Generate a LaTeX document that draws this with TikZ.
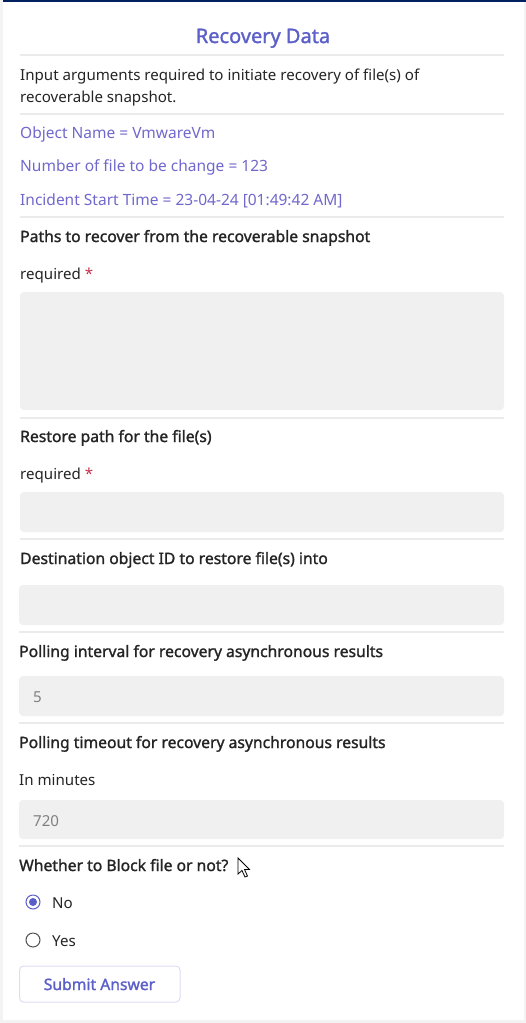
\documentclass[tikz,border=0pt]{standalone}
\usepackage{fontspec}
\setmainfont{Noto Sans}[AutoFakeBold=1.4]
\usepackage{tikz}
\usetikzlibrary{positioning, calc}
\definecolor{navy}{RGB}{0,32,96}
\definecolor{frame}{RGB}{243,243,243}
\definecolor{rulegray}{RGB}{235,235,235}
\definecolor{fieldgray}{RGB}{240,240,240}
\definecolor{inktext}{RGB}{36,36,36}
\definecolor{hinttext}{RGB}{128,128,128}
\definecolor{brand}{RGB}{91,95,199}
\definecolor{infotext}{RGB}{112,104,204}
\definecolor{reqred}{RGB}{196,49,75}
\definecolor{btnedge}{RGB}{224,220,245}
\newcommand{\bodyfont}{\fontsize{15.1}{18}\selectfont}
\newcommand{\labelfont}{\fontsize{15.7}{18}\selectfont\bfseries}
\tikzset{
  txt/.style = {anchor=base west, inner sep=0pt, text=inktext, font=\bodyfont},
  info/.style = {txt, text=infotext, font=\fontsize{15.5}{18}\selectfont},
  label/.style = {txt, font=\labelfont},
  hint/.style = {txt, text=hinttext},
  field/.style = {fill=fieldgray, draw=none, rounded corners=4pt},
  sep/.style = {rulegray, line width=1.2pt}
}

\begin{document}
\begin{tikzpicture}[x=1pt, y=-1pt]

	\useasboundingbox (0,0) rectangle (526,1023);
	\fill [white] (0,0) rectangle (526,1023);
	\fill [frame] (0,0) rectangle (2.5,1023);
	\fill [frame] (523.5,0) rectangle (526,1023);
	\fill [frame] (0,1020) rectangle (526,1023);
	\fill [navy] (2.5,0) rectangle (526,1.6);

	% header
	\node [anchor=base, inner sep=0pt, text=brand, font=\fontsize{20}{24}\selectfont\bfseries] (title) at (263,43) {Recovery Data};
	\draw [sep] (20,55) -- (504,55);
	\node [txt] (intro1) at (20,80) {Input arguments required to initiate recovery of file(s) of};
	\node [txt] (intro2) at (20,102) {recoverable snapshot.};
	\draw [sep] (20,114) -- (504,114);

	\node [info] (objname) at (20,138) {Object Name = VmwareVm};
	\node [info] (filecount) at (20,171) {Number of file to be change = 123};
	\node [info] (starttime) at (20,205) {Incident Start Time = 23-04-24 [01:49:42 AM]};
	\draw [sep] (20,217) -- (504,217);

	% paths
	\node [label] (paths) at (20,242) {Paths to recover from the recoverable snapshot};
	\node [txt] (req1) at (20,279) {required \textcolor{reqred}{*}};
	\path [field] (20,292) rectangle (504,410);
	\draw [sep] (20,418) -- (504,418);

	% restore path
	\node [label] (restore) at (20,442) {Restore path for the file(s)};
	\node [txt] (req2) at (20,479) {required \textcolor{reqred}{*}};
	\path [field] (20,492) rectangle (504,532);
	\draw [sep] (20,539) -- (504,539);

	% destination
	\node [label] (dest) at (20,564) {Destination object ID to restore file(s) into};
	\path [field] (19,585) rectangle (504,625);
	\draw [sep] (19,632) -- (504,632);

	% polling
	\node [label] (interval) at (19,657) {Polling interval for recovery asynchronous results};
	\path [field] (19,676) rectangle (504,716);
	\node [hint] (intervalval) at (33,702) {5};
	\draw [sep] (19,723) -- (504,723);

	\node [label] (timeout) at (19,748) {Polling timeout for recovery asynchronous results};
	\node [txt] (minutes) at (19,785) {In minutes};
	\path [field] (19,800) rectangle (504,839);
	\node [hint] (timeoutval) at (33,826) {720};
	\draw [sep] (19,846) -- (504,846);

	% block choice
	\node [label] (block) at (19,871) {Whether to Block file or not?};
	\draw [fill=white, draw=black, line width=0.8pt] (238,858) -- (238,874) -- (242,870.5) -- (245,877) -- (247.5,876) -- (244.5,869.5) -- (249.5,869.5) -- cycle;

	\draw [brand, line width=1pt, fill=white] (33,902) circle [radius=7];
	\fill [brand] (33,902) circle [radius=4];
	\node [txt] (optno) at (52,908) {No};
	\draw [inktext!80!white, line width=1pt, fill=white] (33,940) circle [radius=7];
	\node [txt] (optyes) at (52,946) {Yes};

	% submit
	\draw [btnedge, line width=1pt, fill=white, rounded corners=4pt] (19.5,966) rectangle (180,1002);
	\node [anchor=base, inner sep=0pt, text=brand, font=\labelfont] (submit) at (99.5,990) {Submit Answer};

\end{tikzpicture}
\end{document}
